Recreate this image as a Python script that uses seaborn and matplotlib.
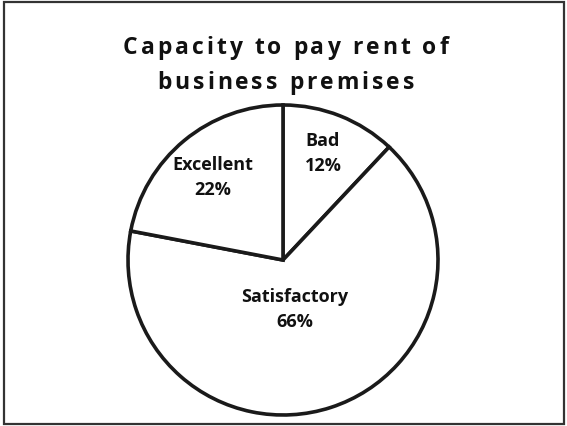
import matplotlib
matplotlib.use("Agg")
import matplotlib.pyplot as plt
import seaborn as sns
from matplotlib.patches import Rectangle

categories = ["Bad", "Satisfactory", "Excellent"]
shares = [12, 66, 22]
title_lines = ["Capacity to pay rent of", "business premises"]

sns.set_style("white")
plt.rcParams["font.family"] = ["Open Sans", "DejaVu Sans"]

W, H = 567, 427
fig = plt.figure(figsize=(W / 100, H / 100), dpi=100)
ax = fig.add_axes([0, 0, 1, 1])
cx, cy, R = 283, 261, 155

wedges, _ = ax.pie(shares, startangle=90, counterclock=False, radius=1,
                   colors=["white"] * 3,
                   wedgeprops=dict(edgecolor="#1a1a1a", linewidth=2.6))
ax.set_xlim(-cx / R, (W - cx) / R)
ax.set_ylim(-(H - cy) / R, cy / R)
ax.set_aspect("equal")
ax.axis("off")

label_pos = {"Bad": (323, 154), "Satisfactory": (295, 310), "Excellent": (213, 178)}
for cat, val in zip(categories, shares):
    px, py = label_pos[cat]
    ax.text((px - cx) / R, (cy - py) / R, f"{cat}\n{val}%", ha="center", va="center",
            fontsize=13, fontweight="bold", color="#111111", linespacing=1.5)

# letter-spaced title
tkw = dict(fontsize=16.5, fontweight="bold", color="#111111")
renderer = fig.canvas.get_renderer()

def text_w(s):
    t = fig.text(0, 0, s, **tkw)
    w = t.get_window_extent(renderer=renderer).width
    t.remove()
    return w

def char_w(ch):
    if ch == " ":
        return text_w("a a") - text_w("aa")
    return text_w(ch)

widths0 = [char_w(c) for c in title_lines[0]]
target0 = 325
tracking = (target0 - sum(widths0)) / (len(title_lines[0]) - 1)
title_center_x = 285.5
for line, ypix in zip(title_lines, [45, 80]):
    ws = [char_w(c) for c in line]
    total = sum(ws) + tracking * (len(line) - 1)
    x = title_center_x - total / 2
    for c, w in zip(line, ws):
        if c != " ":
            fig.text(x / W, 1 - ypix / H, c, ha="left", va="center_baseline", **tkw)
        x += w + tracking

fig.patches.append(Rectangle((4 / W, 2 / H), 560 / W, 422 / H, transform=fig.transFigure,
                             fill=False, edgecolor="#333333", linewidth=1.6))

fig.savefig("out.png", dpi=100)
